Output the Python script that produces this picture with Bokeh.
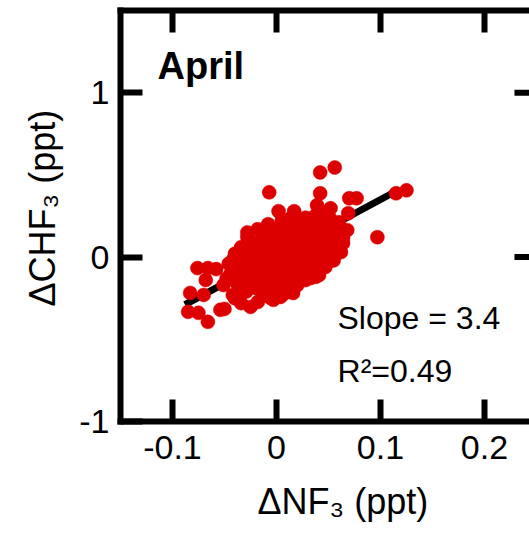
from bokeh.plotting import figure
from bokeh.models import Range1d, LinearAxis, FixedTicker, Label, Title
from bokeh.embed import file_html
from bokeh.resources import INLINE

# ---------------- data ----------------
dnf3 = [
    0.042, 0.056, -0.007, 0.042, 0.070, 0.077, 0.115, 0.125, 0.002, 0.017,
    0.069, 0.097, -0.028, -0.011, 0.011, -0.076, -0.066, -0.058, -0.068, -0.083,
    -0.070, -0.085, -0.075, -0.066, -0.054, -0.050, -0.051, -0.025, -0.042, 0.033,
    0.041, 0.016, 0.050, 0.064, 0.068, 0.039, 0.052, 0.023, 0.036, 0.049,
    0.060, 0.064, -0.042, -0.032, -0.018, -0.006, 0.001, 0.049, 0.023, 0.004,
    -0.044, -0.040, -0.038, -0.036, -0.034, -0.032, -0.030, -0.029, -0.027, -0.026,
    -0.024, -0.023, -0.022, -0.020, -0.019, -0.018, -0.017, -0.015, -0.014, -0.013,
    -0.012, -0.011, -0.010, -0.009, -0.008, -0.007, -0.006, -0.005, -0.004, -0.003,
    -0.002, -0.001, 0.000, 0.001, 0.002, 0.003, 0.004, 0.005, 0.006, 0.007,
    0.008, 0.009, 0.010, 0.011, 0.012, 0.013, 0.014, 0.015, 0.016, 0.017,
    0.018, 0.019, 0.020, 0.021, 0.022, 0.023, 0.024, 0.025, 0.026, 0.027,
    0.028, 0.029, 0.030, 0.031, 0.032, 0.033, 0.034, 0.035, 0.036, 0.037,
    0.038, 0.039, 0.040, 0.041, 0.042, 0.043, 0.044, 0.045, 0.046, 0.047,
    0.048, 0.049, 0.050, 0.051, 0.052, 0.054, 0.055, 0.056, 0.058, 0.059,
    0.060, 0.062, -0.028, -0.018, -0.008, -0.046, -0.048, -0.040, -0.034, -0.003,
    0.008, 0.020, 0.028, 0.038, 0.005, 0.012,
]
dchf3 = [
    0.515, 0.545, 0.394, 0.388, 0.358, 0.358, 0.388, 0.406, 0.279, 0.279,
    0.267, 0.121, 0.121, 0.127, 0.182, -0.067, -0.067, -0.073, -0.139, -0.218,
    -0.230, -0.333, -0.339, -0.394, -0.321, -0.315, -0.170, -0.303, -0.018, -0.127,
    -0.109, -0.218, -0.030, 0.085, 0.164, 0.315, 0.297, 0.224, 0.206, 0.242,
    0.212, 0.115, -0.230, -0.200, -0.273, -0.248, -0.218, -0.030, -0.097, -0.242,
    -0.10, 0.02, -0.16, -0.06, 0.06, -0.12, -0.02, -0.21, 0.04, -0.09,
    -0.15, 0.09, -0.04, 0.00, -0.19, -0.11, 0.05, -0.06, 0.11, -0.14,
    -0.02, -0.23, 0.03, -0.09, 0.07, -0.17, -0.04, 0.14, 0.00, -0.12,
    0.05, -0.07, -0.20, 0.09, -0.02, 0.17, -0.14, 0.02, -0.05, 0.12,
    -0.10, 0.06, -0.01, -0.17, 0.15, 0.03, -0.08, 0.21, -0.03, 0.08,
    -0.13, 0.01, 0.12, -0.06, 0.18, 0.04, -0.10, 0.09, -0.01, 0.14,
    0.24, 0.05, -0.05, 0.11, 0.19, 0.01, 0.15, -0.08, 0.07, 0.25,
    0.12, 0.03, 0.19, -0.03, 0.09, 0.15, 0.27, 0.05, 0.21, -0.06,
    0.12, 0.17, 0.02, 0.24, 0.08, 0.14, -0.02, 0.20, 0.06, 0.11,
    0.16, 0.03, 0.15, 0.17, 0.20, -0.04, -0.13, -0.25, -0.28, -0.26,
    -0.22, -0.17, -0.14, -0.12, 0.22, 0.23,
]
fit_slope = 3.4
fit_intercept = 0.01
fit_x = [-0.088, 0.118]
fit_y = [fit_slope * v + fit_intercept for v in fit_x]

x_ticks = [-0.1, 0, 0.1, 0.2]
x_tick_labels = ["-0.1", "0", "0.1", "0.2"]
y_ticks = [-1, 0, 1]
y_tick_labels = ["-1", "0", "1"]
panel_title = "April"
slope_text = "Slope = 3.4"
r2_text = "R\u00b2=0.49"
x_label = "\u0394NF\u2083 (ppt)"
y_label = "\u0394CHF\u2083 (ppt)"

FONT = "Liberation Sans"
RED = "#dd0000"

# ---------------- figure ----------------
p = figure(width=529, height=538,
           x_range=Range1d(-0.15, 0.2433), y_range=Range1d(-1, 1.5),
           output_backend="svg", toolbar_location=None,
           min_border_left=120, min_border_right=0,
           min_border_top=10, min_border_bottom=116)
p.grid.visible = False
p.outline_line_color = None
p.background_fill_color = "white"
p.border_fill_color = "white"

def style_axis(ax, ticks, labels=None):
    ax.ticker = FixedTicker(ticks=ticks)
    ax.axis_line_width = 6
    ax.axis_line_color = "black"
    ax.axis_line_cap = "square"
    ax.major_tick_in = 22
    ax.major_tick_out = 0
    ax.major_tick_line_width = 6
    ax.major_tick_line_color = "black"
    ax.minor_tick_line_color = None
    ax.major_label_text_font = FONT
    ax.major_label_text_font_size = "34px"
    ax.major_label_text_color = "black"
    if labels is None:
        ax.major_label_overrides = {t: "" for t in ticks}
        ax.major_label_standoff = 0
        ax.major_label_text_font_size = "1px"
    else:
        ax.major_label_overrides = dict(zip(ticks, labels))

style_axis(p.xaxis[0], x_ticks, x_tick_labels)
p.xaxis[0].major_label_standoff = 14
style_axis(p.yaxis[0], y_ticks, y_tick_labels)
p.yaxis[0].major_label_standoff = 11
p.yaxis[0].major_label_orientation = "horizontal"

top = LinearAxis()
style_axis(top, x_ticks)
p.add_layout(top, "above")

# axis titles placed along the frame
xt = Title(text=x_label, align="left", offset=137, standoff=34,
           text_font=FONT, text_font_size="36px", text_font_style="normal",
           text_color="black")
p.add_layout(xt, "below")
yt = Title(text=y_label, align="left", vertical_align="top", offset=115,
           standoff=23, text_font=FONT, text_font_size="36px",
           text_font_style="normal", text_color="black")
p.add_layout(yt, "left")

# right-side ticks of the (off-window) right axis
x_right_axis = 0.25
tick_len = 22 / 1040
right_y = [t for t in y_ticks if t > -1]
p.segment(x0=[x_right_axis - tick_len] * len(right_y), y0=right_y,
          x1=[x_right_axis] * len(right_y), y1=right_y,
          line_width=6, line_color="black")

# regression line, then points
p.line(fit_x, fit_y, line_width=7, line_color="black")
p.scatter(dnf3, dchf3, size=14, fill_color=RED, line_color=RED, line_width=0.5)

# ---------------- texts ----------------
p.add_layout(Label(x=-0.1144, y=1.161, text=panel_title, text_font=FONT,
                   text_font_size="38px", text_font_style="bold",
                   text_color="black", text_baseline="alphabetic"))
p.add_layout(Label(x=0.0587, y=-0.369, text=slope_text, text_font=FONT,
                   text_font_size="32px", text_color="black",
                   text_baseline="alphabetic"))
p.add_layout(Label(x=0.0587, y=-0.691, text=r2_text, text_font=FONT,
                   text_font_size="32px", text_color="black",
                   text_baseline="alphabetic"))

open("out.html", "w").write(file_html(p, INLINE))
